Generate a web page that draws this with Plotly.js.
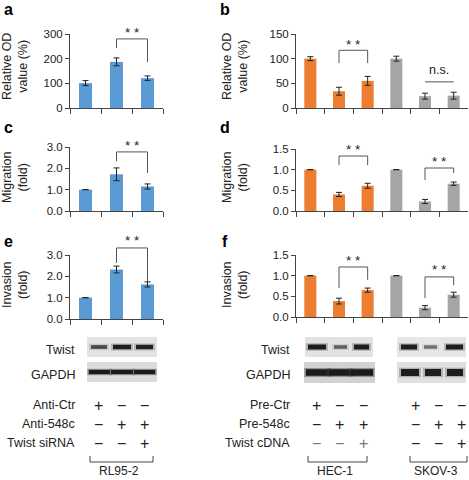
<!DOCTYPE html>
<html>
<head>
<meta charset="utf-8">
<script src="https://cdn.plot.ly/plotly-3.0.1.min.js"></script>
<style>html,body{margin:0;padding:0;background:#fff;}#chart{width:469px;height:480px;}</style>
</head>
<body>
<div id="chart"></div>
<script>
// ---------------- DATA ----------------
const catsRL = ["Anti-Ctr", "Anti-548c", "Anti-548c + Twist siRNA"];
const catsHS = ["HEC-1 Pre-Ctr", "HEC-1 Pre-548c", "HEC-1 Pre-548c + Twist cDNA",
                "SKOV-3 Pre-Ctr", "SKOV-3 Pre-548c", "SKOV-3 Pre-548c + Twist cDNA"];

const odRL = [101, 187, 121];
const odRLerr = [10, 16, 9];
const odHS = [100, 34, 55, 100, 24, 25];
const odHSerr = [4, 8, 9, 5, 6, 7];

const migRL = [1.0, 1.72, 1.15];
const migRLerr = [0, 0.3, 0.12];
const migHS = [1.0, 0.4, 0.61, 1.0, 0.23, 0.66];
const migHSerr = [0, 0.05, 0.06, 0, 0.05, 0.04];

const invRL = [1.0, 2.32, 1.62];
const invRLerr = [0, 0.16, 0.12];
const invHS = [1.0, 0.385, 0.65, 1.0, 0.225, 0.54];
const invHSerr = [0, 0.07, 0.05, 0, 0.05, 0.06];

const colorRL = ["#5B9BD5", "#5B9BD5", "#5B9BD5"];
const colorHS = ["#ED7D31", "#ED7D31", "#ED7D31", "#A5A5A5", "#A5A5A5", "#A5A5A5"];

// significance brackets: [from, to, topValue, leftLegEnd, rightLegEnd, label, labelValue, withLegs]
const sigA = [[1, 2, 280, 243, 186, "**", 320, true]];
const sigB = [[1, 2, 117, 91, 91, "**", 134, true], [4, 5, 53, 53, 53, "n.s.", 77, false]];
const sigC = [[1, 2, 2.77, 2.34, 1.78, "**", 3.19, true]];
const sigD = [[1, 2, 1.33, 1.11, 1.11, "**", 1.55, true], [4, 5, 1.04, 0.75, 0.92, "**", 1.28, true]];
const sigE = [[1, 2, 3.33, 2.63, 1.73, "**", 3.80, true]];
const sigF = [[1, 2, 1.21, 0.70, 0.90, "**", 1.45, true], [4, 5, 0.97, 0.46, 0.77, "**", 1.21, true]];

// western blot band intensities per lane
const twistRL = [0.6, 1.0, 0.95];
const gapdhRL = [1.0, 1.0, 1.0];
const twistHEC = [1.0, 0.4, 1.0];
const gapdhHEC = [1.0, 1.0, 1.0];
const twistSKOV = [1.0, 0.3, 1.0];
const gapdhSKOV = [1.0, 1.0, 1.0];

// treatment table
const rowsRL = ["Anti-Ctr", "Anti-548c", "Twist siRNA"];
const signsRL = [["+", "−", "−"], ["−", "+", "+"], ["−", "−", "+"]];
const rowsHS = ["Pre-Ctr", "Pre-548c", "Twist cDNA"];
const signsHEC = [["+", "−", "−"], ["−", "+", "+"], ["−", "−", "+"]];
const signsSKOV = [["+", "−", "−"], ["−", "+", "+"], ["−", "−", "+"]];
const groupLabels = ["RL95-2", "HEC-1", "SKOV-3"];

// ---------------- LAYOUT HELPERS ----------------
const W = 469, H = 480;
const PX = x => x / W;
const PY = y => 1 - y / H;
const FONT = "Arial, 'Liberation Sans', Helvetica, sans-serif";

const panels = [
  {n: "", cats: catsRL, v: odRL, e: odRLerr, c: colorRL, ymax: 300, tv: [0,100,200,300], fmt: "d", box: [70,163,108,34], title: "Relative OD<br>value (%)", t: [15,67], lab: "a", l: [8,9], sig: sigA},
  {n: "2", cats: catsHS, v: odHS, e: odHSerr, c: colorHS, ymax: 150, tv: [0,50,100,150], fmt: "d", box: [296,468,108,34], title: "Relative OD<br>value (%)", t: [235,67], lab: "b", l: [225,9], sig: sigB},
  {n: "3", cats: catsRL, v: migRL, e: migRLerr, c: colorRL, ymax: 3, tv: [0,1,2,3], fmt: ".1f", box: [70,163,211,147], title: "Migration<br>(fold)", t: [15,178], lab: "c", l: [8,127], sig: sigC},
  {n: "4", cats: catsHS, v: migHS, e: migHSerr, c: colorHS, ymax: 1.5, tv: [0,0.5,1,1.5], fmt: ".1f", box: [296,468,211,149], title: "Migration<br>(fold)", t: [235,178], lab: "d", l: [225,127], sig: sigD},
  {n: "5", cats: catsRL, v: invRL, e: invRLerr, c: colorRL, ymax: 3, tv: [0,1,2,3], fmt: ".1f", box: [70,163,319,255], title: "Invasion<br>(fold)", t: [15,285], lab: "e", l: [8,241], sig: sigE},
  {n: "6", cats: catsHS, v: invHS, e: invHSerr, c: colorHS, ymax: 1.5, tv: [0,0.5,1,1.5], fmt: ".1f", box: [296,468,317,255], title: "Invasion<br>(fold)", t: [235,285], lab: "f", l: [225,241], sig: sigF}
];

const data = [];
const layout = {
  width: W, height: H,
  margin: {l: 0, r: 0, t: 0, b: 0},
  paper_bgcolor: "#fff", plot_bgcolor: "rgba(0,0,0,0)",
  showlegend: false,
  bargap: 0.58,
  font: {family: FONT, color: "#222", size: 11},
  shapes: [], annotations: []
};

panels.forEach(p => {
  const xa = "x" + p.n, ya = "y" + p.n;
  data.push({
    type: "bar", x: p.cats, y: p.v, xaxis: xa, yaxis: ya,
    marker: {color: p.c, line: {width: 0}},
    error_y: {type: "data", array: p.e, visible: true, color: "#222", thickness: 1, width: 3},
    hoverinfo: "skip"
  });
  const [x0, x1, y0, y1] = p.box;
  layout["xaxis" + p.n] = {
    domain: [PX(x0), PX(x1)], anchor: ya, type: "category",
    range: [-0.5, p.cats.length - 0.5],
    tickson: "boundaries", ticks: "outside", ticklen: 5, tickcolor: "#444", tickwidth: 1,
    showticklabels: false, showline: true, linecolor: "#444", linewidth: 1,
    showgrid: false, zeroline: false, fixedrange: true
  };
  layout["yaxis" + p.n] = {
    domain: [PY(y0), PY(y1)], anchor: xa,
    range: [0, p.ymax], tickvals: p.tv, tickformat: p.fmt,
    ticks: "outside", ticklen: 4, tickcolor: "#444", tickwidth: 1,
    showline: true, linecolor: "#444", linewidth: 1,
    showgrid: false, zeroline: false, fixedrange: true,
    tickfont: {size: 11.5, color: "#222", family: FONT}
  };
  // axis title
  layout.annotations.push({
    xref: "paper", yref: "paper", x: PX(p.t[0]), y: PY(p.t[1]),
    text: p.title, textangle: -90, showarrow: false,
    font: {size: 12.5, color: "#222", family: FONT},
    xanchor: "center", yanchor: "middle"
  });
  // panel letter
  layout.annotations.push({
    xref: "paper", yref: "paper", x: PX(p.l[0]), y: PY(p.l[1]),
    text: "<b>" + p.lab + "</b>", showarrow: false,
    font: {size: 16, color: "#000", family: FONT},
    xanchor: "center", yanchor: "middle"
  });
  // significance brackets
  const n = p.cats.length;
  const xr = xa + " domain", yr = ya + " domain";
  const fx = i => (i + 0.5) / n;
  const fy = v => v / p.ymax;
  p.sig.forEach(s => {
    const [i, j, top, yl, yrv, txt, ty, legs] = s;
    const ln = {color: "#555", width: 1};
    layout.shapes.push({type: "line", xref: xr, yref: yr, x0: fx(i), x1: fx(j), y0: fy(top), y1: fy(top), line: ln});
    if (legs) {
      layout.shapes.push({type: "line", xref: xr, yref: yr, x0: fx(i), x1: fx(i), y0: fy(top), y1: fy(yl), line: ln});
      layout.shapes.push({type: "line", xref: xr, yref: yr, x0: fx(j), x1: fx(j), y0: fy(top), y1: fy(yrv), line: ln});
    }
    layout.annotations.push({
      xref: xr, yref: yr, x: (fx(i) + fx(j)) / 2, y: fy(ty),
      text: txt === "**" ? "* *" : txt, showarrow: false,
      font: {size: txt === "**" ? 13.5 : 12.5, color: "#222", family: FONT},
      xanchor: "center", yanchor: "middle", yshift: txt === "**" ? -3 : 0
    });
  });
});

// ---------------- WESTERN BLOTS (drawn as shapes) ----------------
function blot(x0, x1, y0, y1, bg, lanes, intens, bandH, continuous, contOpacity) {
  layout.shapes.push({type: "rect", xref: "paper", yref: "paper",
    x0: PX(x0), x1: PX(x1), y0: PY(y1), y1: PY(y0),
    fillcolor: bg, line: {width: 0}, layer: "above"});
  const yc = (y0 + y1) / 2;
  if (continuous) {
    layout.shapes.push({type: "rect", xref: "paper", yref: "paper",
      x0: PX(lanes[0][0]), x1: PX(lanes[lanes.length - 1][1]),
      y0: PY(yc + bandH / 2 + 1), y1: PY(yc - bandH / 2 - 1),
      fillcolor: "#444", opacity: contOpacity, line: {width: 0}, layer: "above"});
  }
  lanes.forEach((ln, k) => {
    const it = intens[k];
    const h = bandH * (0.55 + 0.45 * it);
    // soft halo
    layout.shapes.push({type: "rect", xref: "paper", yref: "paper",
      x0: PX(ln[0] - 1), x1: PX(ln[1] + 1), y0: PY(yc + h / 2 + 1.3), y1: PY(yc - h / 2 - 1.3),
      fillcolor: "#444", opacity: 0.3 * it, line: {width: 0}, layer: "above"});
    // core band
    layout.shapes.push({type: "rect", xref: "paper", yref: "paper",
      x0: PX(ln[0] + 1), x1: PX(ln[1] - 1), y0: PY(yc + h / 2), y1: PY(yc - h / 2),
      fillcolor: "#151515", opacity: 0.35 + 0.6 * it, line: {width: 0}, layer: "above"});
  });
}
// RL95-2
blot(87, 157, 337, 357, "#e3e3e3", [[90,108],[112,132],[135,154]], twistRL, 4.5, false, 0);
blot(87, 157, 362, 382, "#dcdcdc", [[88,111],[110,134],[133,156]], gapdhRL, 4, true, 0.4);
// HEC-1
blot(305, 373, 337, 357, "#e2e2e2", [[307,327],[333,348],[353,370]], twistHEC, 5, false, 0);
blot(304, 375, 362, 383, "#d2d2d2", [[305,330],[328,352],[350,374]], gapdhHEC, 6.5, true, 0.3);
// SKOV-3
blot(397, 466, 337, 357, "#e6e6e6", [[400,418],[423,438],[445,464]], twistSKOV, 5, false, 0);
blot(397, 466, 362, 383, "#e0e0e0", [[400,420],[424,442],[446,464]], gapdhSKOV, 7, false, 0);

// blot labels
[["Twist", 77, 350], ["GAPDH", 77, 375], ["Twist", 292, 350], ["GAPDH", 292, 375]].forEach(a => {
  layout.annotations.push({xref: "paper", yref: "paper", x: PX(a[1]), y: PY(a[2]),
    text: a[0], showarrow: false, xanchor: "right", yanchor: "middle",
    font: {size: 12.5, color: "#222", family: FONT}});
});

// ---------------- TREATMENT TABLE ----------------
const rowY = [405, 424, 443];
function table(rows, labelX, groups) {
  rows.forEach((r, k) => {
    layout.annotations.push({xref: "paper", yref: "paper", x: PX(labelX), y: PY(rowY[k]),
      text: r, showarrow: false, xanchor: "right", yanchor: "middle",
      font: {size: 12.5, color: "#222", family: FONT}});
  });
  groups.forEach(g => {
    g.signs.forEach((row, k) => {
      row.forEach((s, m) => {
        layout.annotations.push({xref: "paper", yref: "paper", x: PX(g.lanes[m]), y: PY(rowY[k]),
          text: s, showarrow: false, xanchor: "center", yanchor: "middle",
          font: {size: 16, color: (g.fade && k === 2) ? "#777" : "#222", family: FONT}});
      });
    });
    // group bracket
    const ln = {color: "#444", width: 1};
    layout.shapes.push({type: "line", xref: "paper", yref: "paper", x0: PX(g.br[0]), x1: PX(g.br[1]), y0: PY(462), y1: PY(462), line: ln});
    layout.shapes.push({type: "line", xref: "paper", yref: "paper", x0: PX(g.br[0]), x1: PX(g.br[0]), y0: PY(456), y1: PY(462), line: ln});
    layout.shapes.push({type: "line", xref: "paper", yref: "paper", x0: PX(g.br[1]), x1: PX(g.br[1]), y0: PY(456), y1: PY(462), line: ln});
    layout.annotations.push({xref: "paper", yref: "paper", x: PX(g.lx), y: PY(480),
      text: g.name, showarrow: false, xanchor: "center", yanchor: "bottom",
      font: {size: 12, color: "#222", family: FONT}});
  });
}
table(rowsRL, 77, [{signs: signsRL, lanes: [98, 121, 144], br: [90, 153], lx: 119, name: groupLabels[0]}]);
table(rowsHS, 292, [
  {signs: signsHEC, lanes: [316, 339, 363], br: [308, 367], lx: 335, name: groupLabels[1], fade: true},
  {signs: signsSKOV, lanes: [415, 438, 461], br: [410, 467], lx: 436, name: groupLabels[2]}
]);

Plotly.newPlot("chart", data, layout, {staticPlot: true, displayModeBar: false});
</script>
</body>
</html>
